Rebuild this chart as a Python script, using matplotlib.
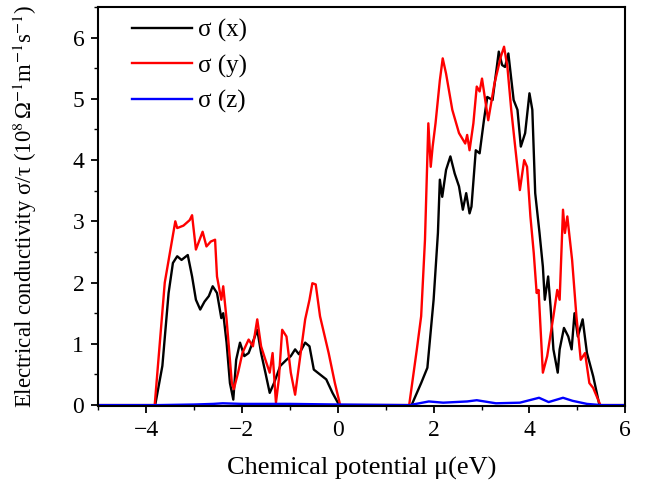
import matplotlib
matplotlib.use("Agg")
import matplotlib.pyplot as plt
from matplotlib.ticker import MultipleLocator

plt.rcParams['font.family'] = ['Liberation Serif', 'DejaVu Serif']
plt.rcParams['mathtext.fontset'] = 'stix'

# sigma(x) - black
mu_x = [-5.0, -3.81, -3.66, -3.53, -3.44, -3.35, -3.26, -3.13, -3.04, -2.96, -2.87, -2.78, -2.69,
        -2.61, -2.52, -2.43, -2.39, -2.32, -2.25, -2.18, -2.12, -2.04, -1.95, -1.86, -1.73,
        -1.68, -1.60, -1.51, -1.42, -1.33, -1.20, -1.07, -0.98, -0.89, -0.81, -0.68, -0.59,
        -0.50, -0.37, -0.24, -0.11, 0.03, 1.54, 1.74, 1.87, 2.00, 2.09, 2.13, 2.18, 2.26,
        2.35, 2.44, 2.53, 2.61, 2.68, 2.75, 2.79, 2.88, 2.96, 3.05, 3.12, 3.23, 3.36, 3.43,
        3.49, 3.56, 3.67, 3.75, 3.82, 3.91, 4.00, 4.06, 4.12, 4.21, 4.28, 4.32, 4.39, 4.44,
        4.50, 4.59, 4.63, 4.72, 4.81, 4.88, 4.94, 5.01, 5.11, 5.20, 5.33, 5.46, 6.0]
sig_x = [0.0, 0.0, 0.64, 1.83, 2.32, 2.43, 2.37, 2.45, 2.10, 1.72, 1.56, 1.69, 1.78,
         1.94, 1.83, 1.42, 1.50, 1.02, 0.36, 0.09, 0.74, 1.02, 0.80, 0.85, 1.12,
         1.23, 0.85, 0.53, 0.20, 0.36, 0.64, 0.74, 0.80, 0.91, 0.83, 1.02, 0.96,
         0.58, 0.50, 0.42, 0.20, 0.0, 0.0, 0.36, 0.61, 1.72, 2.81, 3.68, 3.40, 3.84,
         4.06, 3.78, 3.57, 3.19, 3.46, 3.13, 3.24, 4.16, 4.11, 4.65, 5.03, 4.98, 5.77, 5.55,
         5.52, 5.74, 4.98, 4.82, 4.22, 4.44, 5.09, 4.82, 3.46, 2.81, 2.26, 1.72, 2.10, 1.61,
         0.91, 0.53, 0.91, 1.26, 1.12, 0.91, 1.50, 1.12, 1.40, 0.85, 0.47, 0.0, 0.0]

# sigma(y) - red
mu_y = [-5.0, -3.82, -3.61, -3.39, -3.35, -3.22, -3.09, -3.04, -2.96, -2.82, -2.74, -2.65, -2.56,
        -2.52, -2.43, -2.39, -2.32, -2.21, -2.17, -2.08, -1.99, -1.86, -1.77, -1.68, -1.60,
        -1.51, -1.42, -1.36, -1.29, -1.23, -1.16, -1.07, -0.98, -0.89, -0.81, -0.68, -0.59,
        -0.53, -0.46, -0.37, -0.19, -0.06, 0.05, 1.49, 1.65, 1.74, 1.82, 1.89, 1.94, 1.98,
        2.04, 2.13, 2.19, 2.26, 2.39, 2.53, 2.66, 2.70, 2.75, 2.83, 2.90, 2.96, 3.01, 3.14,
        3.27, 3.40, 3.47, 3.54, 3.62, 3.71, 3.80, 3.89, 3.95, 4.02, 4.09, 4.15, 4.19, 4.28,
        4.37, 4.50, 4.58, 4.63, 4.70, 4.74, 4.79, 4.89, 4.98, 5.07, 5.16, 5.25, 5.33, 5.48, 6.0]
sig_y = [0.0, 0.0, 2.0, 3.0, 2.89, 2.93, 3.02, 3.10, 2.54, 2.83, 2.59, 2.67, 2.70,
         2.10, 1.72, 1.94, 1.40, 0.36, 0.26, 0.53, 0.85, 1.07, 0.96, 1.40, 0.96,
         0.74, 0.53, 0.85, 0.04, 0.42, 1.23, 1.12, 0.53, 0.17, 0.64, 1.40, 1.72,
         1.99, 1.97, 1.45, 0.85, 0.36, 0.0, 0.0, 0.91, 1.45, 2.70, 4.60, 3.89, 4.22,
         4.60, 5.30, 5.66, 5.41, 4.82, 4.44, 4.27, 4.41, 4.16, 4.60, 5.20, 5.12, 5.33, 4.65,
         5.25, 5.68, 5.85, 5.52, 4.82, 4.16, 3.51, 4.00, 3.89, 3.08, 2.48, 1.83, 1.88, 0.53,
         0.80, 1.45, 1.88, 1.72, 3.19, 2.81, 3.08, 2.37, 1.45, 0.74, 0.85, 0.36, 0.28, 0.0, 0.0]

# sigma(z) - blue
mu_z = [-5.0, -3.8, -3.0, -2.6, -2.4, -2.0, -1.0, 0.0, 1.5, 1.9, 2.2, 2.7, 2.9, 3.3, 3.8,
        4.1, 4.2, 4.4, 4.7, 4.9, 5.2, 5.5, 6.0]
sig_z = [0.0, 0.0, 0.01, 0.02, 0.03, 0.02, 0.02, 0.01, 0.0, 0.06, 0.04, 0.06, 0.08, 0.03, 0.04,
         0.10, 0.12, 0.05, 0.12, 0.07, 0.02, 0.0, 0.0]

labels = ['σ (x)', 'σ (y)', 'σ (z)']

fig = plt.figure(figsize=(6.5, 4.93), dpi=100)
ax = fig.add_axes([0.151, 0.177, 0.811, 0.809])
ax.plot(mu_x, sig_x, color='black', lw=1.7, label=labels[0])
ax.plot(mu_y, sig_y, color='red', lw=1.7, label=labels[1])
ax.plot(mu_z, sig_z, color='blue', lw=1.7, label=labels[2])

ax.set_xlim(-5, 6)
ax.set_ylim(-0.01, 6.5)
ax.xaxis.set_major_locator(MultipleLocator(2))
ax.xaxis.set_minor_locator(MultipleLocator(1))
ax.yaxis.set_major_locator(MultipleLocator(1))
ax.yaxis.set_minor_locator(MultipleLocator(0.5))
ax.tick_params(which='major', direction='out', length=5, width=1.3, labelsize=17, pad=5)
ax.tick_params(which='minor', direction='out', length=3, width=1.0)
for s in ax.spines.values():
    s.set_linewidth(1.5)

ax.set_xlabel('Chemical potential μ(eV)', fontsize=19, labelpad=12)
ax.set_ylabel('Electrical conductivity σ/τ (10$^{8}$$\\,$Ω$^{-1}$m$^{-1}$s$^{-1}$)',
              fontsize=16.5, labelpad=24)

leg = ax.legend(loc='upper left', frameon=False, fontsize=18, handlelength=2.4,
                handletextpad=0.25, bbox_to_anchor=(0.064, 0.97), borderaxespad=0.0,
                borderpad=0.0, labelspacing=0.5)

fig.savefig('out.png', dpi=100)
